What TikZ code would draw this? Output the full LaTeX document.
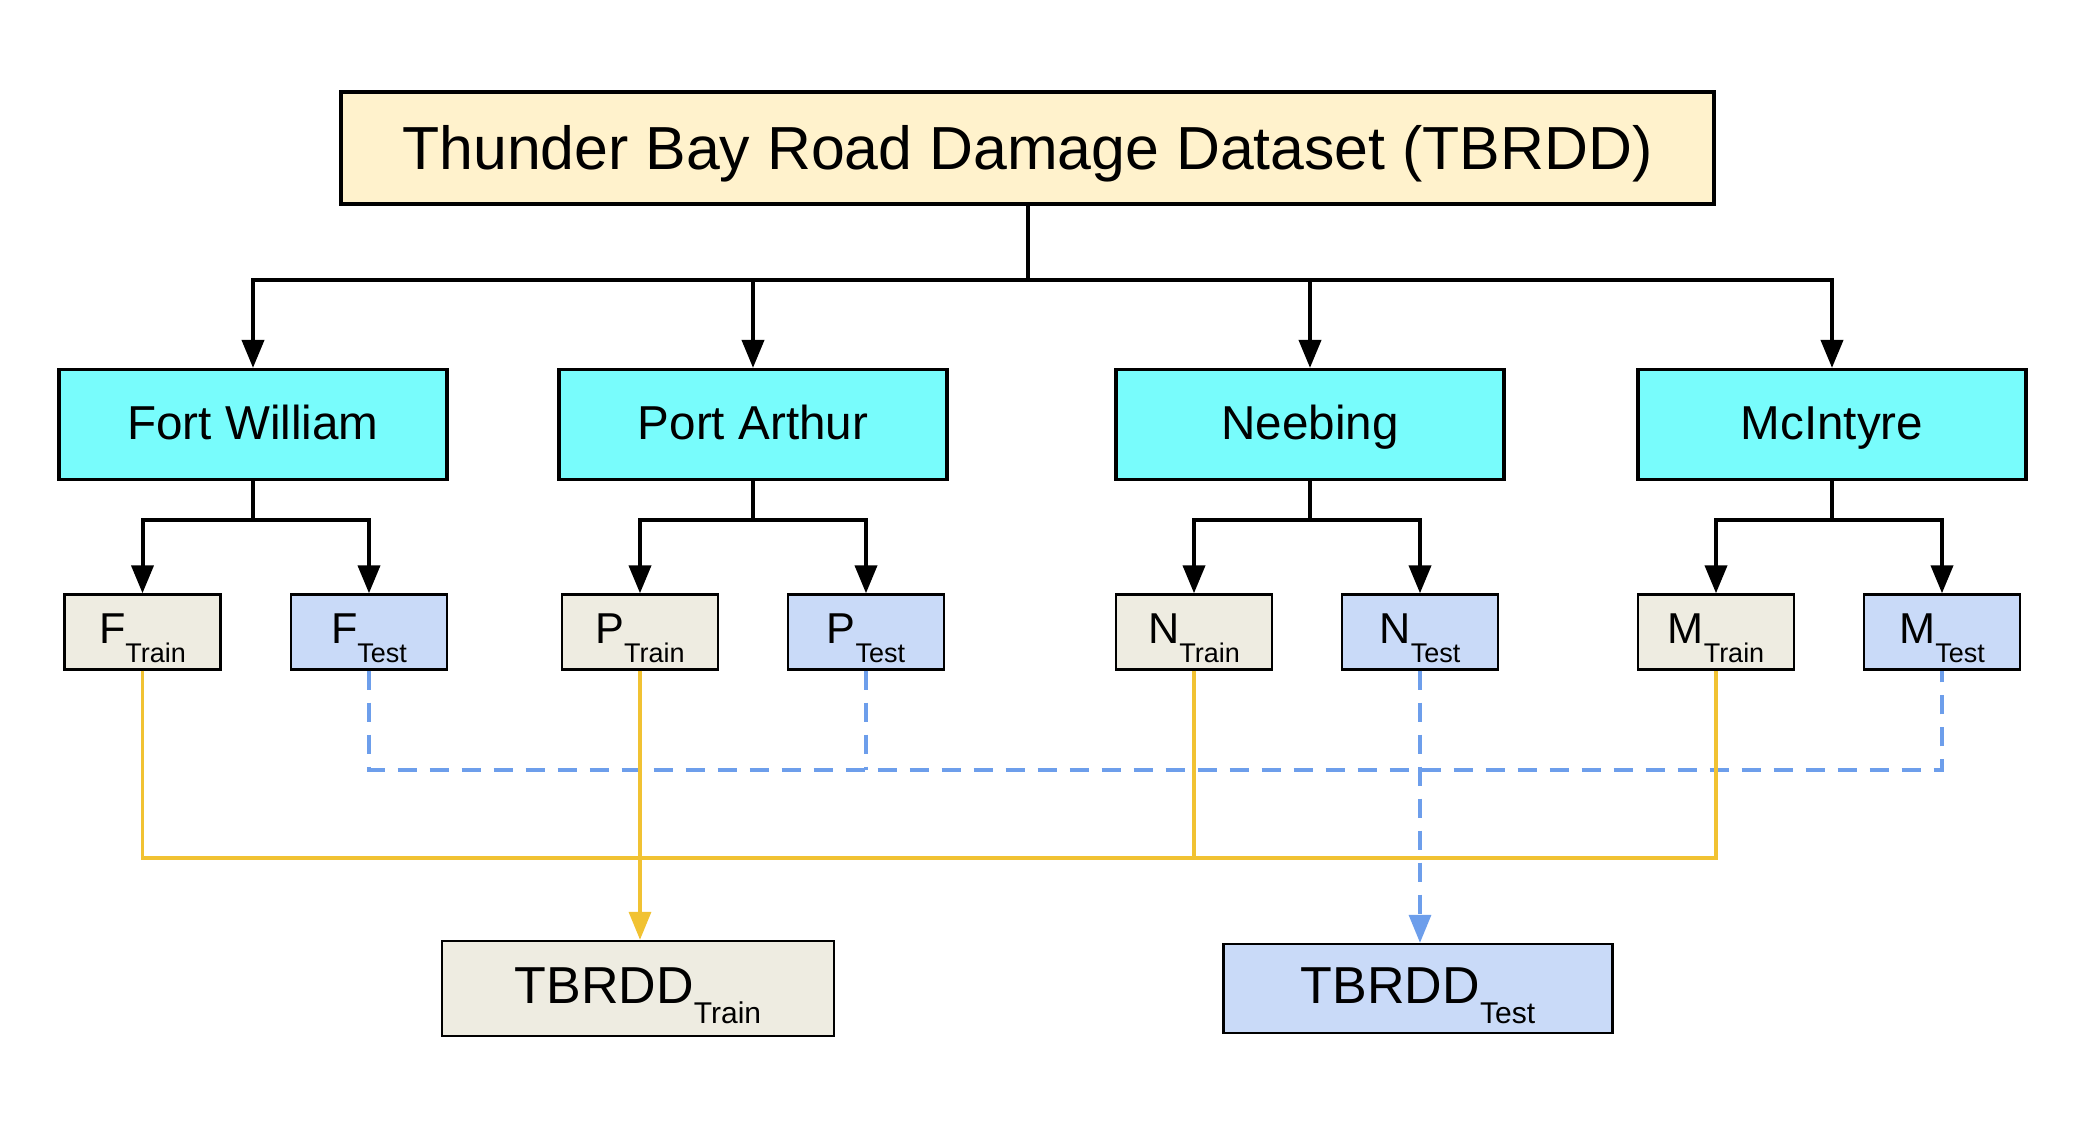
\documentclass[tikz,border=0pt]{standalone}
\usepackage{fontspec}
\setmainfont{Liberation Sans}
\usetikzlibrary{arrows.meta}
\definecolor{titlefill}{HTML}{FFF2CC}
\definecolor{regionfill}{HTML}{78FCFC}
\definecolor{trainfill}{HTML}{EEECE1}
\definecolor{testfill}{HTML}{C9DAF8}
\definecolor{trainline}{HTML}{F1C232}
\definecolor{testline}{HTML}{6D9EEB}
\newcommand{\splitlbl}[2]{#1\raisebox{-9.5pt}{\fontsize{13.5}{16}\selectfont #2}}
\newcommand{\totallbl}[2]{#1\raisebox{-10pt}{\fontsize{15}{18}\selectfont #2}}
\tikzset{
  top/.style={draw, line width=2pt, fill=titlefill, inner sep=0pt,
    minimum width=686.5pt, minimum height=56pt,
    font=\fontsize{30.4}{36}\selectfont, text height=21.5pt, text depth=0pt},
  region/.style={draw, line width=1.6pt, fill=regionfill, inner sep=0pt,
    minimum width=194pt, minimum height=55pt,
    font=\fontsize{23.8}{28}\selectfont, text height=16.5pt, text depth=1pt},
  split/.style={draw, line width=1.2pt, inner sep=0pt,
    minimum width=78pt, minimum height=37.5pt,
    font=\fontsize{21.6}{26}\selectfont, text height=15.5pt, text depth=4.5pt},
  train/.style={split, fill=trainfill},
  test/.style={split, fill=testfill},
  total/.style={draw, line width=1.2pt, inner sep=0pt, minimum width=196pt,
    font=\fontsize{26}{31}\selectfont, text height=19pt, text depth=4.5pt},
  link/.style={line width=2pt},
  trainlink/.style={line width=1.7pt, draw=trainline},
  testlink/.style={line width=1.7pt, draw=testline, dash pattern=on 9.5pt off 6.5pt}
}
\begin{document}
\begin{tikzpicture}[x=0.5pt,y=-0.5pt,>={Triangle[length=14pt,width=11pt]}]
\useasboundingbox (0,0) rectangle (2084,1128);
\node[top] (tbrdd) at (1027.5,148) {Thunder Bay Road Damage Dataset (TBRDD)};

\node[region] (fw) at (253,424.5) {Fort William};
\node[region] (pa) at (753,424.5) {Port Arthur};
\node[region] (nb) at (1310,424.5) {Neebing};
\node[region] (mc) at (1832,424.5) {McIntyre};

\node[train] (ftrain) at (142.5,632) {\splitlbl{F}{Train}};
\node[test] (ftest) at (369,632) {\splitlbl{F}{Test}};
\node[train] (ptrain) at (640,632) {\splitlbl{P}{Train}};
\node[test] (ptest) at (866,632) {\splitlbl{P}{Test}};
\node[train] (ntrain) at (1194,632) {\splitlbl{N}{Train}};
\node[test] (ntest) at (1420,632) {\splitlbl{N}{Test}};
\node[train] (mtrain) at (1716,632) {\splitlbl{M}{Train}};
\node[test] (mtest) at (1942,632) {\splitlbl{M}{Test}};

\node[total, fill=trainfill, minimum height=47.5pt] (dtrain) at (638,988.5) {\totallbl{TBRDD}{Train}};
\node[total, fill=testfill, minimum height=44.5pt, minimum width=194.5pt] (dtest) at (1418,988.5) {\totallbl{TBRDD}{Test}};

\coordinate (rbus) at (0,280);
\coordinate (sbus) at (0,520);
\coordinate (bbus) at (0,770);
\coordinate (ybus) at (0,858);

\foreach \r in {fw,pa,nb,mc}
  \draw[link,->] (tbrdd.south) -- (tbrdd.south |- rbus) -| (\r.north);
\foreach \r/\a/\b in {fw/ftrain/ftest,pa/ptrain/ptest,nb/ntrain/ntest,mc/mtrain/mtest}{
  \draw[link,->] (\r.south) -- (\r.south |- sbus) -| (\a.north);
  \draw[link,->] (\r.south) -- (\r.south |- sbus) -| (\b.north);
}

\draw[testlink] (ftest.south) -- (ftest.south |- bbus) -| (mtest.south);
\draw[testlink] (ptest.south) -- (ptest.south |- bbus);
\draw[testlink,->] (ntest.south) -- (ntest.south |- dtest.north);

\draw[trainlink] (ftrain.south) -- (ftrain.south |- ybus) -| (mtrain.south);
\draw[trainlink] (ntrain.south) -- (ntrain.south |- ybus);
\draw[trainlink,->] (ptrain.south) -- (ptrain.south |- dtrain.north);
\end{tikzpicture}
\end{document}
